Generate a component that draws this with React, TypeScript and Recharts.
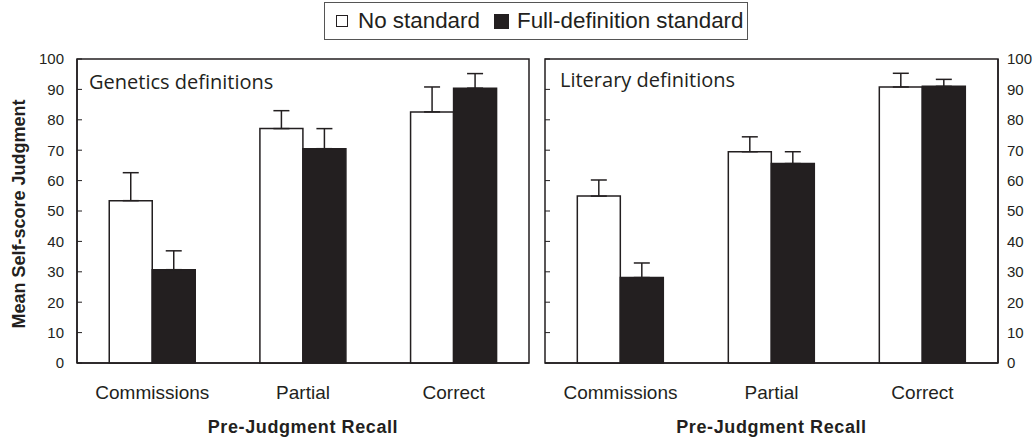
import React from "react"
import { BarChart, Bar, XAxis, YAxis, ErrorBar, Label, ReferenceArea } from "recharts"

const categories = ["Commissions", "Partial", "Correct"]
const seriesNames = ["No standard", "Full-definition standard"]
const yTicks = [0, 10, 20, 30, 40, 50, 60, 70, 80, 90, 100]

// genetics panel
const geneticsNone = [53.4, 77.1, 82.6]
const geneticsNoneErr = [9.2, 5.9, 8.2]
const geneticsFull = [30.7, 70.5, 90.4]
const geneticsFullErr = [6.2, 6.6, 4.8]

// literary panel
const literaryNone = [54.9, 69.5, 90.8]
const literaryNoneErr = [5.3, 4.9, 4.5]
const literaryFull = [28.1, 65.6, 91.0]
const literaryFullErr = [4.8, 3.9, 2.3]

const INK = "#231f20"

function buildRows(none: number[], noneErr: number[], full: number[], fullErr: number[]) {
  return categories.map((cat, i) => ({
    cat,
    none: none[i],
    full: full[i],
    noneErr: [0, noneErr[i]],
    fullErr: [0, fullErr[i]],
  }))
}

const geneticsRows = buildRows(geneticsNone, geneticsNoneErr, geneticsFull, geneticsFullErr)
const literaryRows = buildRows(literaryNone, literaryNoneErr, literaryFull, literaryFullErr)

const LEFT_MARGIN_R = 9 // plot left edge inside the right chart
const TICK_MARGIN_L = 13
const TICK_MARGIN_R = 9

// left panel: label outside, short tick pointing into the plot
// eslint-disable-next-line @typescript-eslint/no-explicit-any
function LeftTick({ x, y, payload }: any) {
  const axisX = x + TICK_MARGIN_L
  return (
    <g>
      <line x1={axisX} x2={axisX + 5} y1={y} y2={y} stroke={INK} strokeWidth={1} />
      <text x={x} y={y} dy="0.36em" textAnchor="end" fontSize={15} fill={INK}>
        {payload.value}
      </text>
    </g>
  )
}

// right panel: label on the right, inner tick on the left frame
// eslint-disable-next-line @typescript-eslint/no-explicit-any
function RightTick({ x, y, payload }: any) {
  return (
    <g>
      <line x1={LEFT_MARGIN_R} x2={LEFT_MARGIN_R + 5} y1={y} y2={y} stroke={INK} strokeWidth={1} />
      <text x={x} y={y} dy="0.36em" textAnchor="start" fontSize={15} fill={INK}>
        {payload.value}
      </text>
    </g>
  )
}

interface PanelProps {
  rows: ReturnType<typeof buildRows>
  title: string
  side: "left" | "right"
}

function Panel({ rows, title, side }: PanelProps) {
  const isLeft = side === "left"
  const width = isLeft ? 535 : 500
  return (
    <BarChart
      width={width}
      height={440}
      data={rows}
      margin={{ top: 59, right: isLeft ? 6 : 0, bottom: 0, left: isLeft ? 0 : LEFT_MARGIN_R }}
      barCategoryGap="21.4%"
      barGap={0}
    >
      <XAxis
        dataKey="cat"
        height={77}
        tickLine={false}
        tickSize={0}
        tickMargin={23}
        axisLine={{ stroke: INK, strokeWidth: 1.5 }}
        tick={{ fontSize: 19, fill: INK }}
        interval={0}
      >
        <Label
          value="Pre-Judgment Recall"
          position="insideBottom"
          offset={7}
          fontSize={18}
          fontWeight="bold"
          fill={INK}
          letterSpacing={0.6}
        />
      </XAxis>
      <YAxis
        type="number"
        orientation={isLeft ? "left" : "right"}
        domain={[0, 100]}
        ticks={yTicks}
        width={isLeft ? 77 : 38}
        tickSize={0}
        tickMargin={isLeft ? TICK_MARGIN_L : TICK_MARGIN_R}
        tickLine={false}
        tick={isLeft ? <LeftTick /> : <RightTick />}
        axisLine={{ stroke: INK, strokeWidth: 1.5 }}
      >
        {isLeft && (
          <Label
            value="Mean Self-score Judgment"
            position="center"
            angle={-90}
            dx={-20}
            dy={3}
            fontSize={18}
            fontWeight="bold"
            fill={INK}
          />
        )}
      </YAxis>
      <ReferenceArea
        y1={0}
        y2={100}
        fill="none"
        fillOpacity={0}
        stroke={INK}
        strokeWidth={1.5}
        ifOverflow="visible"
        label={{
          value: title,
          position: "insideTopLeft",
          offset: isLeft ? 12 : 15,
          dy: isLeft ? 4 : -1,
          fontSize: 20,
          fontFamily: "Open Sans",
          fill: INK,
        }}
      />
      <Bar dataKey="none" name={seriesNames[0]} fill="#ffffff" stroke={INK} strokeWidth={1.5} isAnimationActive={false}>
        <ErrorBar dataKey="noneErr" width={8} stroke={INK} strokeWidth={1.5} direction="y" />
      </Bar>
      <Bar dataKey="full" name={seriesNames[1]} fill={INK} stroke={INK} strokeWidth={1.5} isAnimationActive={false}>
        <ErrorBar dataKey="fullErr" width={8} stroke={INK} strokeWidth={1.5} direction="y" />
      </Bar>
    </BarChart>
  )
}

function LegendBox() {
  return (
    <div
      style={{
        position: "absolute",
        left: 324,
        top: 2,
        width: 424,
        height: 38,
        border: "1px solid #555",
        display: "flex",
        alignItems: "center",
        paddingLeft: 11,
        boxSizing: "border-box",
        fontSize: 22.4,
        color: INK,
        whiteSpace: "nowrap",
      }}
    >
      <span style={{ display: "inline-block", width: 10, height: 10, border: `1px solid ${INK}`, marginRight: 10 }} />
      <span style={{ marginRight: 14 }}>{seriesNames[0]}</span>
      <span style={{ display: "inline-block", width: 15, height: 15, background: INK, marginRight: 8 }} />
      <span>{seriesNames[1]}</span>
    </div>
  )
}

export default function App() {
  return (
    <div
      style={{
        position: "absolute",
        left: 0,
        top: 0,
        width: 1036,
        height: 440,
        background: "#ffffff",
        fontFamily: "'Liberation Sans', Arial, sans-serif",
        overflow: "hidden",
      }}
    >
      <LegendBox />
      <div style={{ position: "absolute", left: 0, top: 0 }}>
        <Panel rows={geneticsRows} title="Genetics definitions" side="left" />
      </div>
      <div style={{ position: "absolute", left: 536, top: 0 }}>
        <Panel rows={literaryRows} title="Literary definitions" side="right" />
      </div>
    </div>
  )
}
